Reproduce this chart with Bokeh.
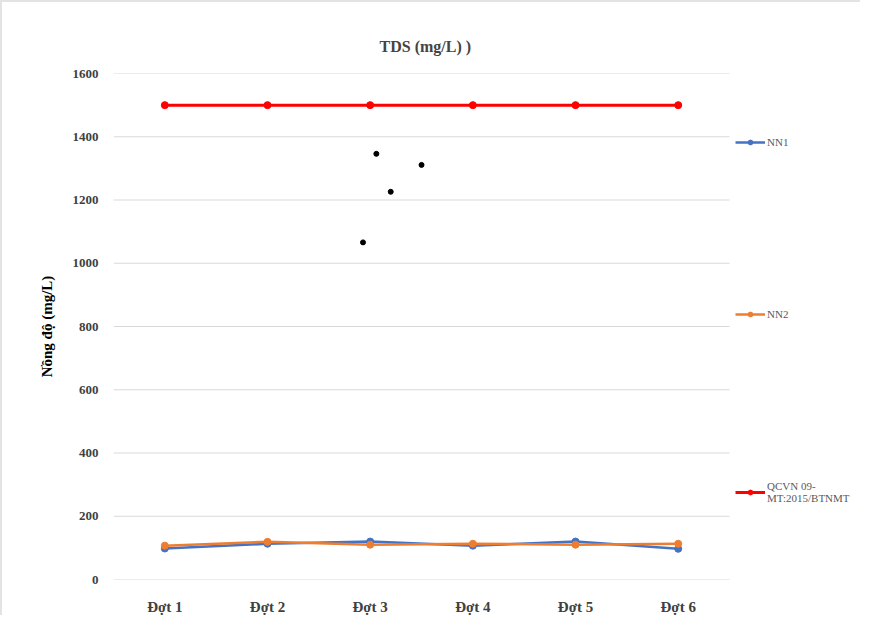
from bokeh.plotting import figure
from bokeh.models import Legend, LegendItem, FixedTicker, Range1d
from bokeh.embed import file_html
from bokeh.resources import INLINE

categories = ["Đợt 1", "Đợt 2", "Đợt 3", "Đợt 4", "Đợt 5", "Đợt 6"]
nn1 = [98, 113, 120, 107, 120, 97]
nn2 = [107, 119, 110, 113, 110, 113]
qcvn = [1500, 1500, 1500, 1500, 1500, 1500]
# stray dots visible in the picture (x as fractional batch position, y value)
dots_x = [3.06, 3.2, 3.5, 2.93]
dots_y = [1346, 1226, 1311, 1066]
y_ticks = [0, 200, 400, 600, 800, 1000, 1200, 1400, 1600]

xs = list(range(1, len(categories) + 1))
n_cat = len(categories)
FONT = "Liberation Serif"

# frame extends to the right so that the legend sits inside it
p = figure(width=860, height=615, output_backend="svg", toolbar_location=None,
           x_range=Range1d(0.5, 7.717), y_range=Range1d(0, 1600),
           min_border_left=111, min_border_right=8, min_border_top=71, min_border_bottom=33)
p.outline_line_color = None
p.styles = {"border-left": "2px solid #e3e3e3", "border-top": "2px solid #e3e3e3"}

p.title.text = "TDS (mg/L) )"
p.title.align = "left"
p.title.text_font = FONT
p.title.text_font_size = "16px"
p.title.text_font_style = "bold"
p.title.offset = 266
p.title.standoff = 38

p.xaxis.ticker = FixedTicker(ticks=xs)
p.xaxis.major_label_overrides = {x: c for x, c in zip(xs, categories)}
p.yaxis.ticker = FixedTicker(ticks=y_ticks)
for ax in (p.xaxis[0], p.yaxis[0]):
    ax.axis_line_color = None
    ax.major_tick_line_color = None
    ax.minor_tick_line_color = None
    ax.major_label_text_font = FONT
    ax.major_label_text_font_style = "bold"
    ax.major_label_text_color = "#404040"
p.xaxis.major_label_text_font_size = "15px"
p.xaxis.major_label_standoff = 13
p.yaxis.major_label_text_font_size = "13px"
p.yaxis.major_label_standoff = 9
p.yaxis.axis_label = "Nồng độ (mg/L)"
p.yaxis.axis_label_text_font = FONT
p.yaxis.axis_label_text_font_size = "15px"
p.yaxis.axis_label_text_font_style = "bold"
p.yaxis.axis_label_text_color = "black"
p.yaxis.axis_label_standoff = 15

p.xgrid.grid_line_color = None
p.ygrid.grid_line_color = None
# horizontal gridlines only over the category area
p.segment(x0=[0.5] * len(y_ticks), y0=y_ticks, x1=[n_cat + 0.5] * len(y_ticks), y1=y_ticks,
          line_color="#d9d9d9", line_width=1)

l1 = p.line(xs, nn1, line_color="#4472c4", line_width=2.5)
c1 = p.scatter(xs, nn1, size=7, fill_color="#4472c4", line_color="#4472c4")
l2 = p.line(xs, nn2, line_color="#ed7d31", line_width=2.5)
c2 = p.scatter(xs, nn2, size=7, fill_color="#ed7d31", line_color="#ed7d31")
l3 = p.line(xs, qcvn, line_color="#ff0000", line_width=3)
c3 = p.scatter(xs, qcvn, size=7, fill_color="#ff0000", line_color="#ff0000")
p.scatter(dots_x, dots_y, size=5, fill_color="black", line_color="black")

legend = Legend(items=[
    LegendItem(label="NN1", renderers=[l1, c1]),
    LegendItem(label="NN2", renderers=[l2, c2]),
    LegendItem(label="QCVN 09-\nMT:2015/BTNMT", renderers=[l3, c3]),
], location=(622, 75))
legend.border_line_color = None
legend.background_fill_alpha = 0
legend.label_text_font = FONT
legend.label_text_font_size = "11px"
legend.label_text_color = "#595959"
legend.glyph_width = 30
legend.glyph_height = 12
legend.label_standoff = 2
legend.spacing = 160
legend.padding = 0
legend.margin = 0
p.add_layout(legend, "center")

open("out.html", "w").write(file_html(p, INLINE))
